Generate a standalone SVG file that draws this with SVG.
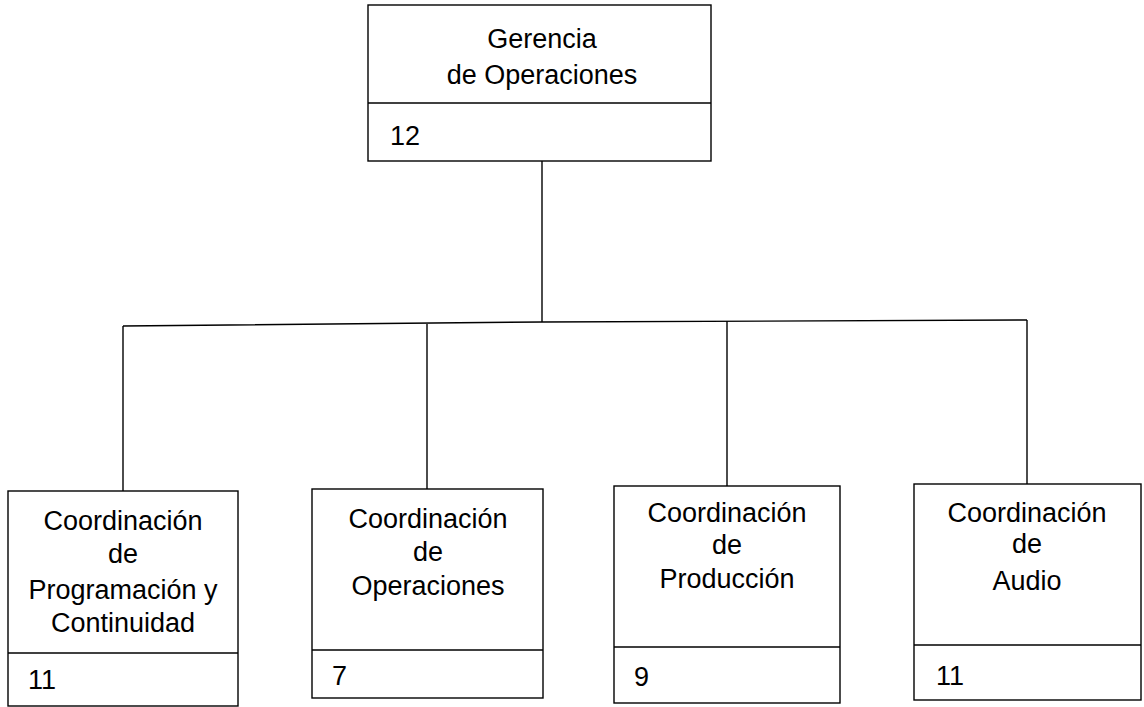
<svg xmlns="http://www.w3.org/2000/svg" width="1144" height="707" viewBox="0 0 1144 707">
<style>
.box{fill:#fff;stroke:#000;stroke-width:1.4}
.div{stroke:#000;stroke-width:1.6}
.lbl{font-family:"Liberation Sans",Arial,sans-serif;font-size:27px;fill:#000;text-anchor:middle}
.num{font-family:"Liberation Sans",Arial,sans-serif;font-size:27px;fill:#000}
.conn{fill:none;stroke:#000;stroke-width:1.4}
</style>
<rect width="1144" height="707" fill="#fff"/>
<g id="connectors">
<polyline class="conn" points="123,326 542,322 1027,320"/>
<line class="conn" x1="542" y1="161" x2="542" y2="322"/>
<line class="conn" x1="123" y1="326" x2="123" y2="491"/>
<line class="conn" x1="427" y1="324" x2="427" y2="489"/>
<line class="conn" x1="727" y1="321" x2="727" y2="486"/>
<line class="conn" x1="1027" y1="320" x2="1027" y2="484"/>
</g>
<g id="gerencia">
<rect class="box" x="368" y="5" width="343" height="156"/>
<line class="div" x1="368" y1="103" x2="711" y2="103"/>
<text class="lbl" x="542" y="48">Gerencia</text>
<text class="lbl" x="542" y="84">de Operaciones</text>
<text class="num" x="390" y="145">12</text>
</g>
<g id="programacion">
<rect class="box" x="8" y="491" width="230" height="215"/>
<line class="div" x1="8" y1="653" x2="238" y2="653"/>
<text class="lbl" x="123" y="530">Coordinación</text>
<text class="lbl" x="123" y="563">de</text>
<text class="lbl" x="123" y="599">Programación y</text>
<text class="lbl" x="123" y="632">Continuidad</text>
<text class="num" x="28" y="689">11</text>
</g>
<g id="operaciones">
<rect class="box" x="312" y="489" width="231" height="209"/>
<line class="div" x1="312" y1="650" x2="543" y2="650"/>
<text class="lbl" x="428" y="528">Coordinación</text>
<text class="lbl" x="428" y="561">de</text>
<text class="lbl" x="428" y="595">Operaciones</text>
<text class="num" x="332" y="685">7</text>
</g>
<g id="produccion">
<rect class="box" x="614" y="486" width="226" height="217"/>
<line class="div" x1="614" y1="647" x2="840" y2="647"/>
<text class="lbl" x="727" y="522">Coordinación</text>
<text class="lbl" x="727" y="554">de</text>
<text class="lbl" x="727" y="588">Producción</text>
<text class="num" x="634" y="686">9</text>
</g>
<g id="audio">
<rect class="box" x="914" y="484" width="227" height="216"/>
<line class="div" x1="914" y1="645" x2="1141" y2="645"/>
<text class="lbl" x="1027" y="522">Coordinación</text>
<text class="lbl" x="1027" y="553">de</text>
<text class="lbl" x="1027" y="590">Audio</text>
<text class="num" x="936" y="685">11</text>
</g>
</svg>
